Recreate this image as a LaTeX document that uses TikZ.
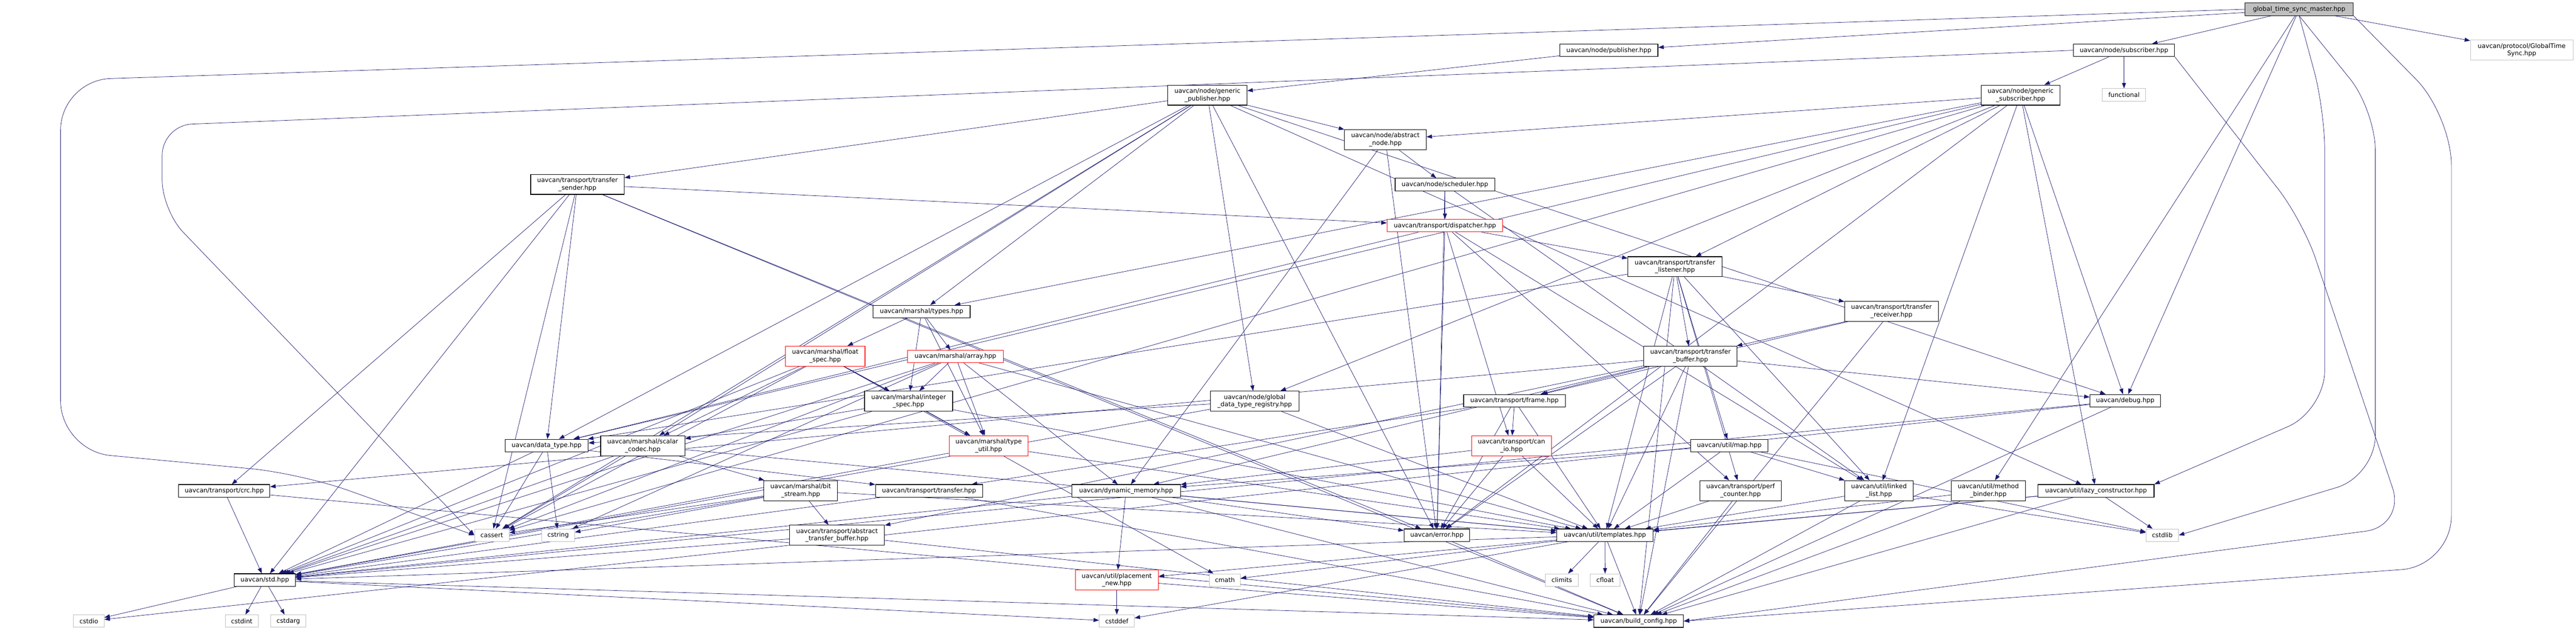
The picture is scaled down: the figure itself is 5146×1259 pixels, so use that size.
\documentclass[tikz,border=0pt]{standalone}
\usepackage{fontspec}
\setmainfont{DejaVu Sans}
\usetikzlibrary{arrows.meta,backgrounds}

\definecolor{edgeblue}{HTML}{191970}
\definecolor{sysgray}{HTML}{BFBFBF}
\definecolor{truncred}{HTML}{FF0000}

\begin{document}
\begin{tikzpicture}[x=1pt,y=-1pt,>={Triangle[length=11pt,width=8pt]},
  file node/.style={draw=black,line width=1.2pt,fill=white,inner sep=0pt,minimum height=25pt,align=center,font=\fontsize{12.5}{15}\selectfont},
  two/.style={minimum height=40pt},
  sys node/.style={file node,draw=sysgray,line width=1pt},
  trunc node/.style={file node,draw=truncred},
  root node/.style={file node,fill=sysgray},
  every edge/.style={draw=edgeblue,line width=0.75pt},
  link/.style={->,draw=edgeblue,line width=0.75pt}]

  \useasboundingbox (0,0) rectangle (5146,1259);

  % rank 0-2
  \node[root node,minimum width=216pt] (master) at (4593,18.5) {global\_time\_sync\_master.hpp};
  \node[sys node,two,minimum width=205pt] (gts) at (5037.5,100) {uavcan/protocol/GlobalTime\\Sync.hpp};
  \node[file node,minimum width=196pt] (pub) at (3214,100.5) {uavcan/node/publisher.hpp};
  \node[file node,minimum width=202pt] (sub) at (4243,100.5) {uavcan/node/subscriber.hpp};
  \node[file node,two,minimum width=158pt] (gpub) at (2412,190) {uavcan/node/generic\\\_publisher.hpp};
  \node[sys node,minimum width=86pt] (func) at (4243,189.5) {functional};
  \node[file node,two,minimum width=157pt] (gsub) at (4036.5,190) {uavcan/node/generic\\\_subscriber.hpp};
  % rank 3-5
  \node[file node,two,minimum width=163pt] (anode) at (2767.5,279) {uavcan/node/abstract\\\_node.hpp};
  \node[file node,two,minimum width=187pt] (tsender) at (1153.5,368) {uavcan/transport/transfer\\\_sender.hpp};
  \node[file node,minimum width=199pt] (sched) at (2886.5,368.5) {uavcan/node/scheduler.hpp};
  \node[trunc node,minimum width=231pt] (disp) at (2886.5,450.5) {uavcan/transport/dispatcher.hpp};
  \node[file node,two,minimum width=188pt] (tlist) at (3346,532.5) {uavcan/transport/transfer\\\_listener.hpp};
  % rank 6-8
  \node[file node,minimum width=194pt] (types) at (1841,622) {uavcan/marshal/types.hpp};
  \node[file node,two,minimum width=187pt] (trecv) at (3778.5,621.5) {uavcan/transport/transfer\\\_receiver.hpp};
  \node[trunc node,two,minimum width=159pt] (fspec) at (1648.5,711) {uavcan/marshal/float\\\_spec.hpp};
  \node[trunc node,minimum width=191pt] (array) at (1908.5,711.5) {uavcan/marshal/array.hpp};
  \node[file node,two,minimum width=186pt] (tbuf) at (3377,711) {uavcan/transport/transfer\\\_buffer.hpp};
  \node[file node,minimum width=141pt] (debug) at (4245.5,800) {uavcan/debug.hpp};
  \node[file node,two,minimum width=176pt] (ispec) at (1815,801) {uavcan/marshal/integer\\\_spec.hpp};
  \node[file node,two,minimum width=177pt] (gdtr) at (2506.5,801) {uavcan/node/global\\\_data\_type\_registry.hpp};
  \node[file node,minimum width=203pt] (frame) at (3025.5,800) {uavcan/transport/frame.hpp};
  % rank 9-10
  \node[file node,minimum width=166pt] (dtype) at (1092,889.5) {uavcan/data\_type.hpp};
  \node[file node,two,minimum width=168pt] (scodec) at (1284,890) {uavcan/marshal/scalar\\\_codec.hpp};
  \node[trunc node,two,minimum width=158pt] (tutil) at (1975,890) {uavcan/marshal/type\\\_util.hpp};
  \node[trunc node,two,minimum width=159pt] (canio) at (3019.5,890) {uavcan/transport/can\\\_io.hpp};
  \node[file node,minimum width=155pt] (map) at (3454.5,889.5) {uavcan/util/map.hpp};
  \node[file node,minimum width=182pt] (crc) at (448,980) {uavcan/transport/crc.hpp};
  \node[file node,two,minimum width=147pt] (bstream) at (1599.5,979.5) {uavcan/marshal/bit\\\_stream.hpp};
  \node[file node,minimum width=214pt] (transfer) at (1856,980) {uavcan/transport/transfer.hpp};
  \node[file node,minimum width=217pt] (dynmem) at (2249.5,980) {uavcan/dynamic\_memory.hpp};
  \node[file node,two,minimum width=162pt] (perf) at (3477,979.5) {uavcan/transport/perf\\\_counter.hpp};
  \node[file node,two,minimum width=137pt] (llist) at (3753.5,979.5) {uavcan/util/linked\\\_list.hpp};
  \node[file node,two,minimum width=148pt] (mbinder) at (3972,979.5) {uavcan/util/method\\\_binder.hpp};
  \node[file node,minimum width=232pt] (lazy) at (4187,980) {uavcan/util/lazy\_constructor.hpp};
  % rank 11-13
  \node[sys node,minimum width=69pt] (cassert) at (982.5,1068.5) {cassert};
  \node[sys node,minimum width=66pt] (cstring) at (1115,1068.5) {cstring};
  \node[file node,two,minimum width=190pt] (atbuf) at (1672,1068.5) {uavcan/transport/abstract\\\_transfer\_buffer.hpp};
  \node[file node,minimum width=131pt] (error) at (2870.5,1068.5) {uavcan/error.hpp};
  \node[file node,minimum width=192pt] (templ) at (3206,1068.5) {uavcan/util/templates.hpp};
  \node[sys node,minimum width=65pt] (cstdlib) at (4319.5,1068.5) {cstdlib};
  \node[file node,minimum width=122pt] (std) at (529,1158) {uavcan/std.hpp};
  \node[trunc node,two,minimum width=166pt] (pnew) at (2231,1158) {uavcan/util/placement\\\_new.hpp};
  \node[sys node,minimum width=62pt] (cmath) at (2447,1158) {cmath};
  \node[sys node,minimum width=66pt] (climits) at (3120,1158) {climits};
  \node[sys node,minimum width=59pt] (cfloat) at (3206.5,1158) {cfloat};
  \node[sys node,minimum width=61pt] (cstdio) at (177.5,1240) {cstdio};
  \node[sys node,minimum width=66pt] (cstdint) at (483,1240) {cstdint};
  \node[sys node,minimum width=70pt] (cstdarg) at (576,1240) {cstdarg};
  \node[sys node,minimum width=70pt] (cstddef) at (2231,1240) {cstddef};
  \node[file node,minimum width=179pt] (bconf) at (3273.5,1240) {uavcan/build\_config.hpp};

  \begin{scope}[on background layer]
    \fill[white] (0,0) rectangle (5146,1259);
    \path[->]
      % master
      (master) edge (pub)
      (master) edge (sub)
      (master) edge (gts)
      (master) edge (debug)
      (master) edge (mbinder)
      % publisher / subscriber
      (pub) edge (gpub)
      (sub) edge (gsub)
      (sub) edge (func)
      % generic_publisher
      (gpub) edge (anode)
      (gpub) edge (tsender)
      (gpub) edge (types)
      (gpub) edge (gdtr)
      (gpub) edge (scodec)
      (gpub) edge (dtype)
      (gpub) edge (error)
      (gpub) edge (debug)
      (gpub) edge (lazy)
      (gpub) edge (cassert)
      % generic_subscriber
      (gsub) edge (anode)
      (gsub) edge (tlist)
      (gsub) edge (types)
      (gsub) edge (gdtr)
      (gsub) edge (dtype)
      (gsub) edge (error)
      (gsub) edge (debug)
      (gsub) edge (lazy)
      (gsub) edge (llist)
      (gsub) edge (cassert)
      % abstract_node, scheduler
      (anode) edge (sched)
      (anode) edge (dynmem)
      (anode) edge (error)
      (sched) edge (disp)
      (sched) edge (error)
      (sched) edge (llist)
      % transfer_sender
      (tsender) edge (disp)
      (tsender) edge (crc)
      (tsender) edge (dtype)
      (tsender) edge (error)
      (tsender) edge (std)
      (tsender) edge (cassert)
      (tsender) edge (bconf)
      % dispatcher
      (disp) edge (tlist)
      (disp) edge (canio)
      (disp) edge (error)
      (disp) edge (llist)
      (disp) edge (perf)
      (disp) edge (dtype)
      % transfer_listener, transfer_receiver
      (tlist) edge (trecv)
      (tlist) edge (tbuf)
      (tlist) edge (map)
      (tlist) edge (dtype)
      (tlist) edge (llist)
      (tlist) edge (perf)
      (tlist) edge (templ)
      (tlist) edge (bconf)
      (trecv) edge (tbuf)
      (trecv) edge (frame)
      (trecv) edge (bconf)
      % marshal
      (types) edge (fspec)
      (types) edge (array)
      (types) edge (ispec)
      (types) edge (tutil)
      (fspec) edge (ispec)
      (fspec) edge (tutil)
      (fspec) edge (scodec)
      (fspec) edge (cmath)
      (fspec) edge (std)
      (fspec) edge (cassert)
      (array) edge (ispec)
      (array) edge (tutil)
      (array) edge (cassert)
      (array) edge (cstring)
      (array) edge (std)
      (array) edge (templ)
      (array) edge (dynmem)
      (ispec) edge (tutil)
      (ispec) edge (scodec)
      (ispec) edge (std)
      (ispec) edge (templ)
      % transfer_buffer
      (tbuf) edge (frame)
      (tbuf) edge (atbuf)
      (tbuf) edge (dynmem)
      (tbuf) edge (debug)
      (tbuf) edge (error)
      (tbuf) edge (templ)
      (tbuf) edge (crc)
      (tbuf) edge (bconf)
      % registry, frame, data_type
      (gdtr) edge (dtype)
      (gdtr) edge (templ)
      (gdtr) edge (std)
      (frame) edge (canio)
      (frame) edge (transfer)
      (frame) edge (templ)
      (frame) edge (error)
      (dtype) edge (transfer)
      (dtype) edge (cassert)
      (dtype) edge (cstring)
      (dtype) edge (std)
      % scalar_codec, type_util, can_io, map
      (scodec) edge (bstream)
      (scodec) edge (cassert)
      (scodec) edge (std)
      (scodec) edge (templ)
      (tutil) edge (templ)
      (tutil) edge (std)
      (canio) edge (error)
      (canio) edge (templ)
      (canio) edge (dynmem)
      (map) edge (llist)
      (map) edge (dynmem)
      (map) edge (templ)
      (map) edge (cstdlib)
      % crc, bit_stream, transfer, dynamic_memory
      (crc) edge (std)
      (crc) edge (bconf)
      (bstream) edge (atbuf)
      (bstream) edge (cassert)
      (bstream) edge (cstring)
      (bstream) edge (std)
      (bstream) edge (templ)
      (transfer) edge (std)
      (transfer) edge (bconf)
      (dynmem) edge (pnew)
      (dynmem) edge (std)
      (dynmem) edge (error)
      (dynmem) edge (templ)
      (dynmem) edge (bconf)
      % util
      (perf) edge (templ)
      (perf) edge (bconf)
      (llist) edge (templ)
      (llist) edge (cstdlib)
      (llist) edge (bconf)
      (mbinder) edge (templ)
      (mbinder) edge (bconf)
      (lazy) edge (pnew)
      (lazy) edge (templ)
      (lazy) edge (cstdlib)
      (lazy) edge (bconf)
      % leaves
      (atbuf) edge (std)
      (atbuf) edge (bconf)
      (error) edge (bconf)
      (templ) edge (climits)
      (templ) edge (cfloat)
      (templ) edge (bconf)
      (templ) edge (cmath)
      (templ) edge (cstddef)
      (templ) edge (std)
      (std) edge (cstdio)
      (std) edge (cstdint)
      (std) edge (cstdarg)
      (std) edge (cstddef)
      (std) edge (bconf)
      (pnew) edge (cstddef)
      (pnew) edge (bconf)
      (debug) edge (std)
      (debug) edge (cstdio)
      (debug) edge (bconf);

    % long edges routed round the outside
    \draw[link,rounded corners=100pt] (master.west) -- (121,160) -- (121,900) -- (600,945) -- (cassert.west);
    \draw[link,rounded corners=60pt] (sub.west) -- (324,250) -- (324,420) -- (cassert.west);
    \draw[link,rounded corners=80pt] (master.south) -- (4644,220) -- (4644,820) -- (lazy.north east);
    \draw[link,rounded corners=80pt] (master.south) -- (4745,220) -- (4745,950) -- (cstdlib.east);
    \draw[link,rounded corners=100pt] (master.south east) -- (4897,230) -- (4897,1130) -- (bconf.east);
    \draw[link,rounded corners=80pt] (sub.south east) -- (4600,440) -- (4805,1050) -- (bconf.east);
  \end{scope}
\end{tikzpicture}
\end{document}
